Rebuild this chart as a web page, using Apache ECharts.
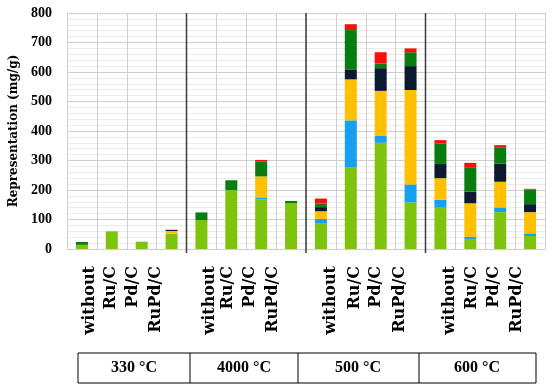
<!DOCTYPE html>
<html>
<head>
<meta charset="utf-8">
<script src="https://cdn.jsdelivr.net/npm/echarts@6/dist/echarts.min.js"></script>
<style>html,body{margin:0;padding:0;background:#fff}#c{width:550px;height:390px}</style>
</head>
<body>
<div id="c"></div>
<script>
// ---- data ----
const catalysts = ['without', 'Ru/C', 'Pd/C', 'RuPd/C'];
const temperatures = ['330 °C', '4000 °C', '500 °C', '600 °C'];
const yTicks = [0, 100, 200, 300, 400, 500, 600, 700, 800];
// stacked components, bottom to top, per bar (16 bars: 4 temperatures x 4 catalysts)
const lightGreen = [14, 60, 25, 52, 98, 200, 168, 156, 86, 276, 360, 158, 140, 34, 125, 44];
const blue       = [0, 0, 0, 0, 0, 0, 5, 0, 16, 160, 23, 61, 27, 7, 16, 9];
const orange     = [0, 0, 0, 9, 0, 0, 73, 0, 26, 139, 153, 320, 73, 114, 87, 72];
const navy       = [0, 0, 0, 4, 0, 0, 0, 0, 14, 34, 77, 81, 48, 39, 61, 27];
const darkGreen  = [10, 0, 0, 0, 26, 33, 50, 7, 12, 133, 16, 47, 70, 81, 56, 49];
const red        = [0, 0, 0, 0, 0, 0, 6, 0, 17, 20, 38, 13, 11, 17, 7, 3];
const groupBoundaries = [4, 8, 12];

// ---- layout ----
const categories = [];
temperatures.forEach(() => catalysts.forEach(c => categories.push(c)));
const LABEL_SHIFT_PX = [8, -1, -9, -16, 8, -3, -11, -18, 10, 4, -5, -11, 9, 2, -6, -13];
const CAT_W = 478 / 16;
const labelPos = categories.map((c, i) => +(i + 0.5 + LABEL_SHIFT_PX[i] / CAT_W).toFixed(4));

const seriesDefs = [
  ['Component 1', lightGreen, '#7ec40f'],
  ['Component 2', blue, '#179ff0'],
  ['Component 3', orange, '#ffc000'],
  ['Component 4', navy, '#0b1a30'],
  ['Component 5', darkGreen, '#0a7d10'],
  ['Component 6', red, '#fa0d0d']
];

const chart = echarts.init(document.getElementById('c'), null, {renderer: 'canvas'});
const series = seriesDefs.map(([name, data, color]) => ({
  name, type: 'bar', stack: 'total', data, barWidth: 12,
  itemStyle: {color}, xAxisIndex: 0, yAxisIndex: 0, z: 3
}));
series.push({
  type: 'custom', xAxisIndex: 1, yAxisIndex: 0, silent: true, z: 4,
  data: groupBoundaries.map(v => [v]),
  renderItem: (params, api) => {
    const x = api.coord([api.value(0), 0])[0];
    const yb = api.coord([0, 0])[1];
    const yt = api.coord([0, 800])[1];
    return {type: 'line', shape: {x1: x, y1: yb + 4, x2: x, y2: yt},
      style: {stroke: '#3a3a3a', lineWidth: 1.5}};
  }
});

chart.setOption({
  animation: false,
  grid: {left: 67, right: 5, top: 13, bottom: 141, containLabel: false},
  xAxis: [
    {
      type: 'category', data: categories, position: 'bottom',
      axisLine: {show: true, lineStyle: {color: '#cfcfcf'}},
      axisTick: {show: false}, axisLabel: {show: false},
      splitLine: {show: true, interval: 0, lineStyle: {color: '#cfcfcf', width: 1}}
    },
    {
      type: 'value', min: 0, max: 16, position: 'bottom',
      axisLine: {show: false}, axisTick: {show: false}, splitLine: {show: false},
      axisLabel: {
        show: true, customValues: labelPos, rotate: 90, margin: 17,
        fontFamily: 'DejaVu Serif', fontWeight: 'bold', fontSize: 16, color: '#000',
        formatter: v => {
          let best = 0;
          labelPos.forEach((p, i) => { if (Math.abs(p - v) < Math.abs(labelPos[best] - v)) best = i; });
          return categories[best];
        }
      }
    }
  ],
  yAxis: {
    type: 'value', min: yTicks[0], max: yTicks[yTicks.length - 1], interval: 100,
    name: 'Representation (mg/g)', nameLocation: 'middle', nameGap: 39, nameRotate: 90,
    nameTextStyle: {fontFamily: 'DejaVu Serif', fontWeight: 'bold', fontSize: 12, color: '#000'},
    axisLine: {show: false}, axisTick: {show: false},
    axisLabel: {margin: 15, fontFamily: 'Liberation Serif', fontWeight: 'bold', fontSize: 14, color: '#000'},
    splitLine: {show: true, lineStyle: {color: '#cfcfcf', width: 1}},
    minorTick: {show: false, splitNumber: 5},
    minorSplitLine: {show: true, lineStyle: {color: '#ebebeb', width: 1}}
  },
  series,
  graphic: [
    {type: 'rect', shape: {x: 78, y: 353, width: 458, height: 30}, style: {fill: 'none', stroke: '#000', lineWidth: 1}},
    ...[190, 298, 419].map(x => ({type: 'line', shape: {x1: x, y1: 353, x2: x, y2: 383}, style: {stroke: '#000', lineWidth: 1}})),
    ...temperatures.map((t, i) => ({
      type: 'text', x: [134, 244, 358, 477][i], y: 368,
      style: {text: t, fontFamily: 'Liberation Serif', fontWeight: 'bold', fontSize: 16, fill: '#000', align: 'center', verticalAlign: 'middle'}
    }))
  ]
});
</script>
</body>
</html>
